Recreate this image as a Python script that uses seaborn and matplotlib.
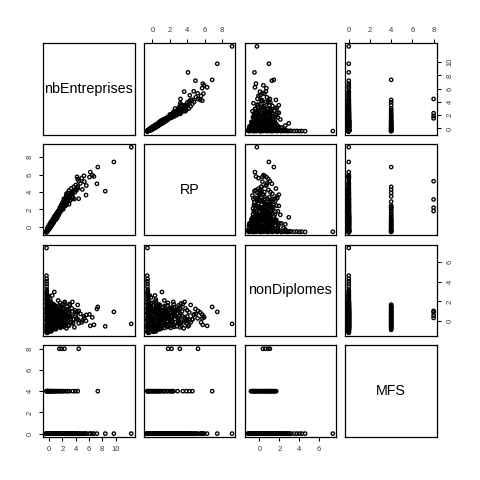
import matplotlib
matplotlib.use("Agg")
import matplotlib.pyplot as plt
import pandas as pd
import seaborn as sns


names = ["nbEntreprises", "RP", "nonDiplomes", "MFS"]
tick_values = [[0, 2, 4, 6, 8, 10], [0, 2, 4, 6, 8], [0, 2, 4, 6], [0, 2, 4, 6, 8]]
mfs_levels = [0, 4, 8]

# MFS = 0, small communes (bottom-left corner, tall nonDiplomes column)
nb_small = [-0.40, -0.41, -0.39, -0.40, -0.38, -0.39, -0.37, -0.36, -0.40, -0.35,
            -0.38, -0.33, -0.41, -0.30, -0.36, -0.39, -0.28, -0.34, -0.40, -0.25,
            -0.37, -0.31, -0.41, -0.22, -0.35, -0.38, -0.27, -0.40, -0.32, -0.20,
            -0.36, -0.39, -0.29, -0.41, -0.34, -0.24, -0.38, -0.40, -0.33, -0.18,
            -0.15, -0.12, -0.21, -0.14, -0.10]
rp_small = [-0.58, -0.60, -0.57, -0.59, -0.56, -0.58, -0.55, -0.54, -0.60, -0.52,
            -0.57, -0.50, -0.61, -0.46, -0.53, -0.58, -0.42, -0.51, -0.59, -0.28,
            -0.55, -0.47, -0.60, -0.40, -0.52, -0.57, -0.41, -0.59, -0.48, -0.18,
            -0.54, -0.58, -0.44, -0.61, -0.50, -0.45, -0.56, -0.60, -0.49, -0.35,
            -0.05, -0.18, -0.32, -0.20, -0.25]
nd_small = [7.37, 4.59, 4.26, 4.02, 3.76, 3.49, 3.19, 3.02, 2.85, 2.70,
            2.52, 2.38, 2.20, 2.05, 1.90, 1.75, 1.62, 1.48, 1.33, 1.20,
            1.05, 0.92, 0.80, 0.66, 0.52, 0.40, 0.27, 0.14, 0.02, -0.10,
            -0.22, -0.35, -0.47, -0.60, -0.72, -0.84, -0.95, -1.05, -1.15, 0.35,
            -0.55, 1.45, 2.60, 0.85, -0.30]

# MFS = 0, dense core of the cloud
nb_core = [-0.30, -0.26, -0.22, -0.18, -0.14, -0.10, -0.06, -0.02, 0.02, 0.06,
           0.10, 0.14, 0.18, 0.22, 0.26, 0.30, 0.34, 0.38, 0.42, 0.46,
           0.50, 0.54, 0.58, 0.62, 0.66, 0.70, 0.74, 0.78, 0.82, 0.86,
           0.90, 0.94, 0.98, 1.02, 1.06, 1.10, 1.14, 1.18, 1.22, 1.26,
           -0.33, -0.28, -0.24, -0.16, -0.08, 0.00, 0.08, 0.16, 0.24, 0.32,
           0.40, 0.48, 0.56, 0.64, 0.72, 0.80, 0.88, 0.96, 1.04, 1.12,
           1.20, 1.30, 1.40, 1.50, 1.60, 1.70, 1.80, 1.90, 2.00, 2.10,
           -0.20, 0.04, 0.20, 0.36, 0.52, 0.68, 0.84, 1.00, 1.24, 1.46]
rp_core = [-0.31, -0.48, -0.13, -0.32, 0.00, -0.37, -0.04, 0.08, -0.21, 0.22,
           -0.08, 0.32, 0.09, 0.33, 0.04, 0.36, 0.61, 0.29, 0.55, 0.30,
           0.77, 0.50, 0.70, 0.44, 0.89, 0.74, 1.04, 0.71, 1.03, 0.86,
           1.21, 0.88, 1.21, 1.42, 1.07, 1.37, 1.24, 1.59, 1.21, 1.51,
           -0.50, -0.27, -0.44, -0.16, -0.35, 0.13, -0.10, 0.39, 0.14, 0.45,
           0.25, 0.68, 0.40, 0.82, 1.06, 0.76, 1.06, 0.85, 1.38, 1.19,
           1.54, 1.31, 1.85, 1.65, 1.92, 1.74, 2.31, 2.08, 2.45, 2.17,
           -0.17, -0.20, 0.39, 0.16, 0.65, 0.62, 1.21, 1.05, 1.62, 1.50]
nd_core = [-1.10, 0.70, -0.30, 1.50, 0.20, -0.75, 1.10, -0.05, 0.45, -0.95,
           1.80, 0.00, -0.60, 0.95, -0.20, 0.35, 1.35, -0.85, 0.60, -0.40,
           0.15, 1.60, -0.70, 0.40, -0.15, 1.00, -0.50, 0.80, 0.05, 1.25,
           -0.35, 0.55, 1.45, -0.65, 0.25, -0.10, 0.90, 0.30, -0.45, 1.05,
           -0.80, 0.50, 1.70, -0.25, 0.90, -1.05, 0.20, 2.00, -0.55, 0.65,
           1.20, -0.35, 0.75, 0.10, -0.70, 1.55, 0.45, -0.15, 0.95, 0.25,
           -0.20, 0.60, 1.15, -0.50, 0.35, 1.60, 0.00, 0.85, -0.30, 0.50,
           2.40, 1.85, -0.90, 0.70, -0.40, 1.30, 0.15, -0.60, 0.40, 1.00]

# MFS = 0, middle of the cloud
nb_mid = [0.00, 0.05, 0.08, 0.10, 0.12, 0.15, 0.18, 0.20, 0.22, 0.25,
          0.28, 0.30, 0.33, 0.35, 0.38, 0.40, 0.42, 0.45, 0.48, 0.50,
          0.53, 0.55, 0.58, 0.60, 0.63, 0.65, 0.68, 0.70, 0.73, 0.75,
          0.78, 0.80, 0.83, 0.85, 0.88, 0.90, 0.93, 0.95, 0.98, 1.00,
          1.05, 1.08, 1.12, 1.15, 1.20, 1.25, 1.30, 1.35, 1.40, 1.45]
rp_mid = [0.15, -0.14, 0.10, -0.18, 0.19, 0.38, 0.07, -0.01, 0.36, 0.25,
          0.49, 0.16, 0.40, 0.12, 0.51, 0.68, 0.35, 0.29, 0.68, 0.55,
          0.79, 0.46, 0.70, 0.42, 0.81, 0.98, 0.67, 0.59, 0.98, 0.85,
          1.09, 0.76, 1.00, 0.72, 1.11, 1.28, 0.97, 0.89, 1.28, 1.15,
          1.41, 1.10, 1.34, 1.08, 1.49, 1.70, 1.41, 1.37, 1.78, 1.69]
nd_mid = [-0.90, 0.40, 1.60, -0.40, 0.90, 2.20, -0.70, 0.10, 1.25, -0.15,
          0.60, 1.90, -1.00, 0.30, 1.05, -0.50, 0.75, 2.60, -0.25, 1.40,
          0.05, -0.80, 0.50, 1.15, -0.35, 0.20, 1.70, -0.60, 0.85, 0.00,
          2.95, -0.10, 0.65, 1.30, -0.45, 0.35, 1.00, -0.75, 0.15, 0.55,
          1.55, -0.20, 0.80, 0.10, 1.20, -0.55, 0.45, 2.10, -0.05, 0.70]

# MFS = 0, upper part of the band
nb_up = [1.50, 1.55, 1.60, 1.65, 1.70, 1.75, 1.80, 1.85, 1.90, 1.95,
         2.00, 2.05, 2.10, 2.15, 2.20, 2.25, 2.30, 2.35, 2.40, 2.45,
         2.50, 2.60, 2.70, 2.80, 2.90, 3.00, 3.10, 3.25, 3.40, 3.60]
rp_up = [1.85, 1.60, 2.00, 1.78, 2.10, 1.90, 2.25, 2.05, 2.35, 2.15,
         2.45, 2.25, 2.60, 2.30, 2.70, 2.50, 2.85, 2.40, 2.95, 2.70,
         3.10, 2.55, 3.20, 2.90, 3.35, 2.60, 3.50, 3.10, 3.80, 3.30]
nd_up = [-0.30, 1.00, 0.40, 1.85, -0.65, 0.60, 1.40, 0.05, 0.95, -0.40,
         1.70, 0.25, -0.10, 1.25, 0.50, -0.55, 0.80, 1.95, 0.15, 1.10,
         -0.25, 0.65, 1.50, 0.35, -0.45, 0.90, 1.75, 0.20, 1.30, -0.15]

# MFS = 0, wider spread around the band
nb_band = [1.60, 1.80, 2.00, 2.10, 2.30, 2.40, 2.50, 2.60, 2.70, 2.80,
           2.90, 3.00, 3.10, 3.20, 3.30, 3.50, 3.70, 3.80, 4.00, 2.20,
           2.60, 3.40, 1.40, 1.20, 1.00]
rp_band = [2.20, 2.50, 2.80, 2.00, 3.00, 3.30, 2.60, 3.60, 2.90, 3.90,
           3.20, 4.20, 3.00, 3.70, 4.40, 3.40, 4.60, 3.20, 4.80, 3.20,
           3.80, 4.00, 1.30, 1.00, 0.80]
nd_band = [0.30, 1.40, -0.50, 0.90, -0.20, 1.80, 0.60, -0.70, 1.20, 0.10,
           0.80, -0.40, 1.60, 0.40, -0.10, 1.00, 0.20, -0.60, 0.70, 1.30,
           0.00, 0.50, -0.30, 1.10, -0.80]

# MFS = 0, isolated large values
nb_big = [12.37, 9.75, 8.45, 7.20, 6.75, 6.20, 6.07, 5.25, 5.60, 5.55,
          4.20, 4.30, 4.70, 4.30, 4.10, 4.45, 3.90, 3.50, 5.00, 5.30,
          4.90, 6.50]
rp_big = [9.17, 7.47, 4.10, 4.95, 5.80, 6.30, 5.72, 5.87, 4.75, 3.65,
          5.75, 5.50, 5.00, 4.40, 4.20, 3.23, 4.00, 3.70, 4.30, 5.20,
          5.60, 5.95]
nd_big = [-0.25, 0.95, -0.50, 1.25, -0.35, -0.45, 0.70, 0.50, 0.65, 0.05,
          0.30, 0.90, 0.75, 1.65, 0.20, -0.20, 1.10, 1.95, 0.10, 0.30,
          -0.10, 0.40]

# MFS = 4
nb_m4 = [7.33, 4.30, 3.94, 3.54, 3.03, 2.78, 2.50,
         -0.42, -0.38, -0.35, -0.30, -0.25, -0.18, -0.10, -0.02, 0.05, 0.15,
         0.25, 0.35, 0.45, 0.55, 0.65, 0.75, 0.90, 1.05, 1.20, 1.40,
         1.60, 1.80, 2.00, 2.20]
rp_m4 = [6.88, 4.60, 4.25, 3.90, 3.50, 2.90, 2.44,
         -0.60, -0.55, -0.50, -0.45, -0.35, -0.25, -0.12, 0.00, 0.10, 0.20,
         0.35, 0.40, 0.58, 0.65, 0.82, 0.90, 1.08, 1.30, 1.40, 1.65,
         1.85, 2.05, 2.20, 2.30]
nd_m4 = [1.45, 0.20, 0.90, -0.20, 0.50, 1.10, -0.40,
         0.10, 1.20, -0.50, 0.60, -0.85, 1.55, 0.30, -0.20, 0.95, -0.65,
         1.40, 0.00, -0.40, 0.75, 1.68, -0.75, 0.45, 1.10, -0.10, 0.85,
         -0.55, 1.30, 0.20, 0.60]

# MFS = 8
nb_m8 = [4.45, 2.30, 1.87, 1.52]
rp_m8 = [5.25, 3.15, 2.20, 1.80]
nd_m8 = [1.05, 0.60, 0.90, 0.35]


nb0 = nb_small + nb_core + nb_mid + nb_up + nb_band + nb_big
rp0 = rp_small + rp_core + rp_mid + rp_up + rp_band + rp_big
nd0 = nd_small + nd_core + nd_mid + nd_up + nd_band + nd_big

data = pd.DataFrame({
    "nbEntreprises": nb0 + nb_m4 + nb_m8,
    "RP": rp0 + rp_m4 + rp_m8,
    "nonDiplomes": nd0 + nd_m4 + nd_m8,
    "MFS": [mfs_levels[0]] * len(nb0) + [mfs_levels[1]] * len(nb_m4) + [mfs_levels[2]] * len(nb_m8),
})

sns.set_style("ticks")
plt.rcParams["font.family"] = ["Liberation Sans", "DejaVu Sans"]

g = sns.PairGrid(data, vars=names, height=1.2, despine=False)
g.map_offdiag(sns.scatterplot, marker="o", s=6, facecolor="none",
              edgecolor="black", linewidth=0.95)

fig = g.figure
fig.set_size_inches(4.8, 4.8)
fig.subplots_adjust(left=43 / 480, right=437 / 480, bottom=43 / 480,
                    top=437 / 480, wspace=0.1, hspace=0.1)

# R style ranges: data range plus 4% on each side
for k, name in enumerate(names):
    lo, hi = data[name].min(), data[name].max()
    pad = 0.04 * (hi - lo)
    g.axes[0, k].set_xlim(lo - pad, hi + pad)
    g.axes[k, 0].set_ylim(lo - pad, hi + pad)
    g.axes[0, k].set_xticks(tick_values[k])
    g.axes[k, 0].set_yticks(tick_values[k])

for i in range(4):
    for j in range(4):
        ax = g.axes[i, j]
        ax.set_xlabel("")
        ax.set_ylabel("")
        for sp in ax.spines.values():
            sp.set_linewidth(0.9)
            sp.set_color("black")
        ax.tick_params(axis="both", which="both", direction="out", length=2.8,
                       width=0.75, pad=4.0, labelsize=5.5, color="black",
                       labelcolor="#3a3a3a", bottom=False, top=False,
                       left=False, right=False, labelbottom=False,
                       labeltop=False, labelleft=False, labelright=False)

# alternating axes like pairs()
for j in range(4):
    if j % 2 == 1:
        g.axes[0, j].tick_params(axis="x", top=True, labeltop=True)
    else:
        g.axes[3, j].tick_params(axis="x", bottom=True, labelbottom=True)
for i in range(4):
    if i % 2 == 1:
        ax = g.axes[i, 0]
        ax.tick_params(axis="y", left=True, labelleft=True, labelrotation=90)
    else:
        ax = g.axes[i, 3]
        ax.tick_params(axis="y", right=True, labelright=True, labelrotation=90)
    for t in ax.yaxis.get_major_ticks():
        t.label1.set_va("center")
        t.label2.set_va("center")

for k, name in enumerate(names):
    g.axes[k, k].text(0.5, 0.5, name, transform=g.axes[k, k].transAxes,
                      ha="center", va="center", fontsize=10.3, color="black")

fig.savefig("out.png", dpi=100, facecolor="white")
